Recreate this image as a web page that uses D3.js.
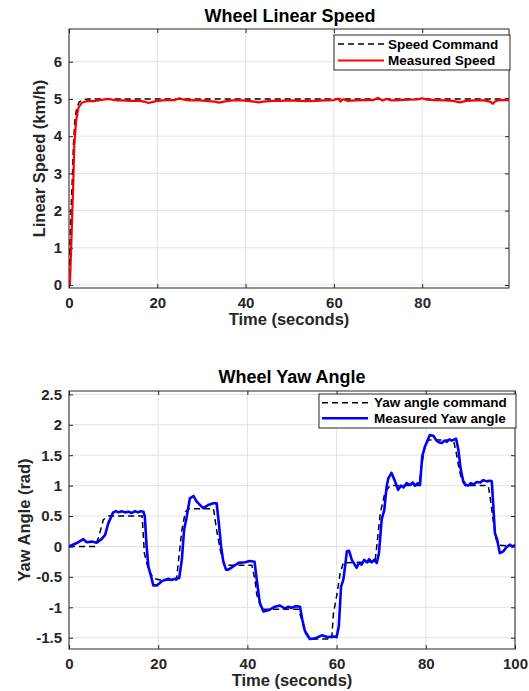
<!DOCTYPE html>
<html>
<head>
<meta charset="utf-8">
<script src="https://cdn.jsdelivr.net/npm/d3@7"></script>
<style>
  body { margin: 0; background: #fff; }
  text { font-family: "Liberation Sans", Arial, Helvetica, sans-serif; font-weight: bold; }
</style>
</head>
<body>
<div id="chart"></div>
<script>
// ---- data: [time (s), value] ----
const speedCommand = [
  [0, 0], [0.23, 1.0], [0.45, 1.95], [0.75, 2.85], [1.0, 3.75], [1.36, 4.45],
  [1.74, 4.75], [2.3, 4.92], [3.2, 4.98], [4.4, 5.0], [99.7, 5.0]
];

const speedMeasured = [
  [0.2, 0], [0.45, 0.85], [0.75, 1.95], [1.0, 2.85], [1.2, 3.75], [1.6, 4.4],
  [2.1, 4.75], [2.9, 4.9], [4.0, 4.94], [5.5, 4.94], [7.8, 4.98], [8.9, 5.0],
  [10.8, 4.96], [12, 4.96], [14, 4.95], [16, 4.95], [17, 4.93], [18, 4.89],
  [19, 4.92], [20, 4.95], [22, 4.97], [24, 4.97], [25, 5.02], [26, 4.98],
  [27, 4.96], [29, 4.97], [31, 4.95], [33, 4.93], [34, 4.90], [35, 4.93],
  [37, 4.96], [39, 4.96], [41, 4.94], [43, 4.91], [44, 4.93], [46, 4.95],
  [48, 4.95], [50, 4.96], [52, 4.95], [54, 4.94], [56, 4.95], [58, 4.96],
  [60, 4.97], [61, 5.01], [61.5, 4.93], [62, 4.99], [63, 4.95], [65, 4.96],
  [67, 4.97], [69, 4.97], [70, 5.03], [71, 4.96], [72, 5.0], [73, 4.96],
  [75, 4.97], [77, 4.98], [79, 4.99], [80, 5.02], [81, 4.98], [83, 4.97],
  [85, 4.96], [87, 4.95], [88.5, 4.91], [90, 4.95], [92, 4.96], [94, 4.96],
  [95.5, 4.92], [96, 4.87], [96.5, 4.93], [97.5, 4.97], [99.7, 4.97]
];

const yawCommand = [
  [0, 0], [5.8, 0], [6.6, 0.14], [7.7, 0.44], [8.8, 0.5], [16.4, 0.5],
  [16.9, -0.11], [17.8, -0.38], [18.9, -0.52], [20.4, -0.55], [24.1, -0.55],
  [24.5, -0.27], [25.3, 0.27], [26.1, 0.57], [26.8, 0.62], [32.4, 0.62],
  [33.1, 0.27], [33.9, -0.05], [34.6, -0.25], [35.4, -0.31], [41, -0.31],
  [41.7, -0.55], [42.1, -0.79], [43.2, -1.03], [51.4, -1.03], [52.2, -1.2],
  [52.9, -1.42], [54, -1.52], [58.9, -1.52], [59.3, -1.09], [60, -0.82],
  [60.8, -0.44], [61.5, -0.27], [68.6, -0.25], [69, 0], [69.8, 0.55],
  [70.9, 0.9], [72, 1.0], [78.5, 1.0], [78.9, 1.26], [79.8, 1.65],
  [80.6, 1.75], [86.2, 1.75], [86.8, 1.55], [87.3, 1.34], [88, 1.1],
  [88.8, 1.0], [94, 1.0], [94.4, 0.82], [95.2, 0.38], [95.8, 0.11],
  [96.6, 0.02], [100, 0]
];

const yawMeasured = [
  [0, 0], [2.1, 0.07], [3.2, 0.12], [4.0, 0.07], [5.1, 0.08], [6.2, 0.06],
  [7.3, 0.12], [8.1, 0.19], [8.8, 0.38], [9.9, 0.56], [10.5, 0.58], [11.1, 0.56],
  [11.8, 0.58], [12.6, 0.56], [13.3, 0.57], [14.1, 0.55], [14.8, 0.58],
  [15.5, 0.56], [16.1, 0.58], [16.7, 0.57], [17.0, 0.49], [17.4, 0], [17.8, -0.33],
  [18.4, -0.49], [18.9, -0.64], [19.7, -0.64], [20.8, -0.57], [21.5, -0.55],
  [22.3, -0.53], [23.0, -0.55], [23.8, -0.53], [24.7, -0.52], [25.3, -0.22],
  [25.8, 0.27], [26.4, 0.49], [27.1, 0.79], [27.9, 0.83], [28.6, 0.74],
  [29.4, 0.68], [30.1, 0.63], [31.2, 0.68], [32.4, 0.71], [33.1, 0.71],
  [33.6, 0.38], [34.1, 0], [34.6, -0.25], [35.2, -0.38], [35.7, -0.38],
  [36.8, -0.33], [38.0, -0.27], [39.5, -0.26], [40.5, -0.24], [41.6, -0.25],
  [42.1, -0.55], [42.8, -0.93], [43.6, -1.07], [44.7, -1.05], [46.2, -0.99],
  [47.3, -0.97], [48.4, -1.02], [49.2, -0.99], [49.9, -1.01], [50.8, -0.98],
  [51.8, -0.99], [52.3, -1.2], [52.9, -1.39], [54.0, -1.52], [55.2, -1.51],
  [56.7, -1.46], [58.1, -1.49], [59.3, -1.48], [60.0, -1.49], [60.5, -1.31],
  [61.0, -0.66], [61.5, -0.55], [61.9, -0.33], [62.3, -0.08], [62.8, -0.07],
  [63.4, -0.22], [64.5, -0.35], [65.0, -0.27], [65.6, -0.3], [66.2, -0.22],
  [66.8, -0.26], [67.3, -0.21], [67.9, -0.26], [68.4, -0.22], [69.0, -0.27],
  [69.5, -0.11], [70.1, 0.44], [70.7, 0.6], [71.2, 0.98], [71.6, 1.12],
  [72.3, 1.21], [73.1, 1.07], [73.8, 0.93], [74.4, 1.0], [75.0, 0.97],
  [75.7, 1.04], [76.5, 1.01], [77.1, 1.05], [77.6, 1.0], [78.2, 1.04],
  [78.7, 1.01], [79.2, 1.48], [79.8, 1.64], [80.9, 1.83], [81.7, 1.82],
  [82.4, 1.74], [83.0, 1.71], [83.6, 1.70], [84.2, 1.74], [84.7, 1.72],
  [85.3, 1.76], [85.8, 1.74], [86.8, 1.77], [87.3, 1.59], [87.8, 1.28],
  [88.4, 1.07], [89.0, 1.01], [89.5, 1.0], [90.1, 1.04], [90.7, 1.02],
  [91.4, 1.06], [92.2, 1.05], [92.9, 1.09], [93.7, 1.07], [94.3, 1.08],
  [94.8, 1.07], [95.1, 0.71], [95.5, 0.22], [96.0, 0.11], [96.6, -0.11],
  [97.4, -0.08], [98.1, -0.01], [98.9, 0.03], [99.4, 0.0], [100, 0.02]
];

const speedYTicks = [0, 1, 2, 3, 4, 5, 6];
const speedXTicks = [0, 20, 40, 60, 80];
const yawYTicks = [-1.5, -1, -0.5, 0, 0.5, 1, 1.5, 2, 2.5];
const yawXTicks = [0, 20, 40, 60, 80, 100];

const W = 529, H = 691;
const axisColor = "#262626";

const svg = d3.select("#chart")
  .append("svg")
  .attr("width", W)
  .attr("height", H);

function drawPanel(p) {
  const width = p.right - p.left,
        height = p.bottom - p.top;

  const x = d3.scaleLinear().domain(p.xDomain).range([0, width]);
  const y = d3.scaleLinear().domain(p.yDomain).range([height, 0]);

  const g = svg.append("g")
    .attr("transform", `translate(${p.left},${p.top})`);

  g.append("clipPath").attr("id", p.id + "-clip")
    .append("rect").attr("width", width).attr("height", height);

  // grid
  g.append("g").selectAll("line")
    .data(p.xTicks)
    .join("line")
    .attr("x1", d => x(d)).attr("x2", d => x(d))
    .attr("y1", 0).attr("y2", height)
    .attr("stroke", "#e3e3e3");
  g.append("g").selectAll("line")
    .data(p.yTicks)
    .join("line")
    .attr("x1", 0).attr("x2", width)
    .attr("y1", d => y(d)).attr("y2", d => y(d))
    .attr("stroke", "#e3e3e3");

  // axes, ticks pointing in on all four sides
  const styleAxis = (sel) => {
    sel.select(".domain").remove();
    sel.selectAll("line").attr("stroke", axisColor);
    sel.selectAll("text")
      .attr("fill", axisColor)
      .style("font-size", "15px")
      .style("font-weight", "bold")
      .style("font-family", '"Liberation Sans", Arial, sans-serif');
  };

  g.append("g")
    .attr("transform", `translate(0,${height})`)
    .call(d3.axisBottom(x).tickValues(p.xTicks).tickSize(-4).tickPadding(9)
      .tickFormat(d => String(d)))
    .call(styleAxis);
  g.append("g")
    .call(d3.axisLeft(y).tickValues(p.yTicks).tickSize(-4).tickPadding(7)
      .tickFormat(d => String(d)))
    .call(styleAxis);
  g.append("g")
    .call(d3.axisTop(x).tickValues(p.xTicks).tickSize(-4).tickFormat(""))
    .call(styleAxis);
  g.append("g")
    .attr("transform", `translate(${width},0)`)
    .call(d3.axisRight(y).tickValues(p.yTicks).tickSize(-4).tickFormat(""))
    .call(styleAxis);

  g.append("rect")
    .attr("width", width).attr("height", height)
    .attr("fill", "none")
    .attr("stroke", axisColor)
    .attr("stroke-width", 1);

  const line = d3.line().x(d => x(d[0])).y(d => y(d[1]));

  const lines = g.append("g").attr("clip-path", `url(#${p.id}-clip)`);
  lines.append("path")
    .datum(p.command)
    .attr("d", line)
    .attr("fill", "none")
    .attr("stroke", "#000")
    .attr("stroke-width", 1.5)
    .attr("stroke-dasharray", "6,4");
  lines.append("path")
    .datum(p.measured)
    .attr("d", line)
    .attr("fill", "none")
    .attr("stroke", p.color)
    .attr("stroke-width", p.lineWidth)
    .attr("stroke-linejoin", "round");

  // title
  svg.append("text")
    .attr("x", p.titleX).attr("y", p.titleY)
    .attr("text-anchor", "middle")
    .style("font-size", "18px")
    .attr("fill", "#000")
    .text(p.title);

  // axis labels
  svg.append("text")
    .attr("x", p.xLabelX).attr("y", p.xLabelY)
    .attr("text-anchor", "middle")
    .style("font-size", "16.5px")
    .attr("fill", axisColor)
    .text("Time (seconds)");
  svg.append("text")
    .attr("transform", `translate(${p.yLabelX},${p.top + height / 2}) rotate(-90)`)
    .attr("text-anchor", "middle")
    .attr("dy", "0.35em")
    .style("font-size", "16.5px")
    .attr("fill", axisColor)
    .text(p.yLabel);

  // legend
  const lg = svg.append("g")
    .attr("transform", `translate(${p.legend.x},${p.legend.y})`);
  lg.append("rect")
    .attr("width", p.legend.w).attr("height", p.legend.h)
    .attr("fill", "#fff")
    .attr("stroke", axisColor)
    .attr("stroke-width", 1);
  const items = [
    { label: p.legend.labels[0], color: "#000", dash: "6,4", w: 1.5 },
    { label: p.legend.labels[1], color: p.color, dash: null, w: p.lineWidth }
  ];
  items.forEach((it, i) => {
    const cy = p.legend.rowY[i];
    lg.append("line")
      .attr("x1", p.legend.lineX[0]).attr("x2", p.legend.lineX[1])
      .attr("y1", cy).attr("y2", cy)
      .attr("stroke", it.color)
      .attr("stroke-width", it.w)
      .attr("stroke-dasharray", it.dash);
    lg.append("text")
      .attr("x", p.legend.textX).attr("y", cy)
      .attr("dy", "0.35em")
      .style("font-size", "13.5px")
      .attr("fill", "#000")
      .text(it.label);
  });
}

drawPanel({
  id: "speed",
  left: 69, right: 509, top: 29, bottom: 288,
  xDomain: [0, 99.66], yDomain: [-0.08, 6.88],
  xTicks: speedXTicks, yTicks: speedYTicks,
  command: speedCommand, measured: speedMeasured,
  color: "#ff0000", lineWidth: 2.2,
  title: "Wheel Linear Speed", titleX: 290, titleY: 22,
  xLabelX: 289, xLabelY: 325,
  yLabel: "Linear Speed (km/h)", yLabelX: 39,
  legend: {
    x: 334, y: 35, w: 176, h: 35,
    lineX: [4, 50], textX: 54, rowY: [9, 25.5],
    labels: ["Speed Command", "Measured Speed"]
  }
});

drawPanel({
  id: "yaw",
  left: 69, right: 515, top: 391, bottom: 649,
  xDomain: [0, 100], yDomain: [-1.685, 2.555],
  xTicks: yawXTicks, yTicks: yawYTicks,
  command: yawCommand, measured: yawMeasured,
  color: "#0000ff", lineWidth: 2.6,
  title: "Wheel Yaw Angle", titleX: 292, titleY: 383,
  xLabelX: 292, xLabelY: 686,
  yLabel: "Yaw Angle (rad)", yLabelX: 24,
  legend: {
    x: 319, y: 394, w: 197, h: 34,
    lineX: [3, 49], textX: 55, rowY: [8.7, 24.3],
    labels: ["Yaw angle command", "Measured Yaw angle"]
  }
});
</script>
</body>
</html>
